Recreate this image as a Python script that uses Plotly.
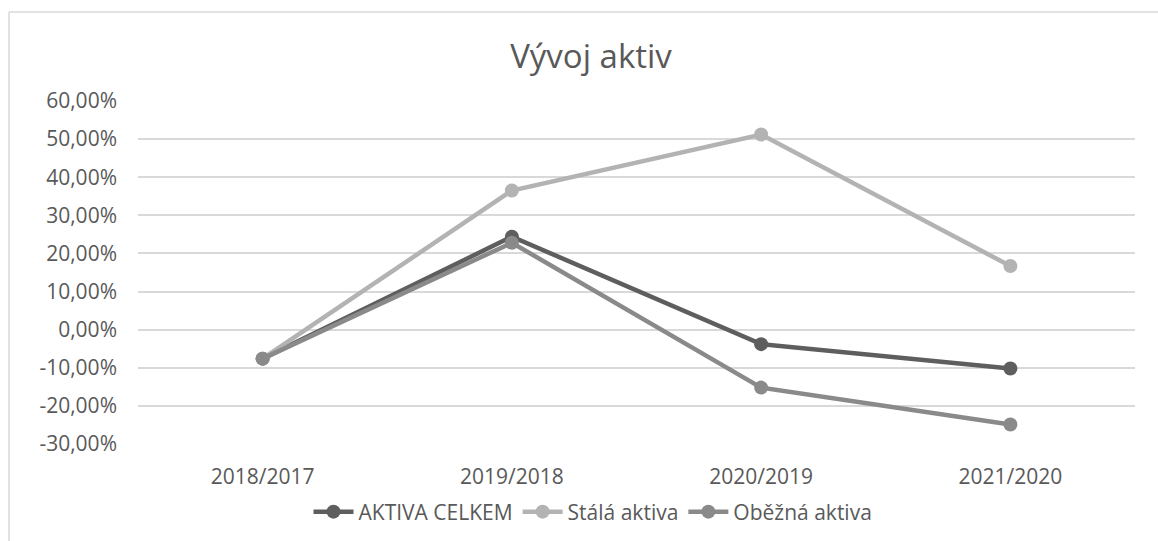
import plotly.graph_objects as go

categories = ["2018/2017", "2019/2018", "2020/2019", "2021/2020"]
aktiva_celkem = [-7.6, 24.4, -3.8, -10.2]
stala_aktiva = [-7.6, 36.5, 51.2, 16.7]
obezna_aktiva = [-7.6, 22.8, -15.2, -24.9]
series_names = ["AKTIVA CELKEM", "Stálá aktiva", "Oběžná aktiva"]
y_tick_values = [-30, -20, -10, 0, 10, 20, 30, 40, 50, 60]
y_tick_labels = ["-30,00%", "-20,00%", "-10,00%", "0,00%", "10,00%",
                 "20,00%", "30,00%", "40,00%", "50,00%", "60,00%"]
title_text = "Vývoj aktiv"

colors = ["#5e5e5e", "#b3b3b3", "#8a8a8a"]
FONT = "Open Sans"
TEXT_COLOR = "#595959"

W, H = 1158, 541
L, R, T, B = 138, 23, 101, 97
pw, ph = W - L - R, H - T - B

fig = go.Figure()
for name, vals, col in zip(series_names, [aktiva_celkem, stala_aktiva, obezna_aktiva], colors):
    fig.add_trace(go.Scatter(
        x=categories, y=vals, name=name, mode="lines+markers",
        line=dict(color=col, width=4.5),
        marker=dict(color=col, size=14),
    ))

def px_x(p):
    return (p - L) / pw

def px_y(p):
    return (H - B - p) / ph

# chart border (left and top edges visible)
border = dict(color="#d9d9d9", width=1.5)
fig.add_shape(type="line", xref="paper", yref="paper",
              x0=px_x(9), x1=px_x(9), y0=px_y(H + 5), y1=px_y(12), line=border)
fig.add_shape(type="line", xref="paper", yref="paper",
              x0=px_x(9), x1=px_x(W + 5), y0=px_y(12), y1=px_y(12), line=border)

fig.update_layout(
    width=W, height=H,
    margin=dict(l=L, r=R, t=T, b=B, autoexpand=False),
    paper_bgcolor="white", plot_bgcolor="white",
    font=dict(family=FONT, size=21, color=TEXT_COLOR),
    title=dict(text=title_text, font=dict(family=FONT, size=33, color=TEXT_COLOR),
               xref="container", x=591 / W, xanchor="center",
               yref="container", y=1 - 56 / H, yanchor="middle"),
    showlegend=True,
    legend=dict(orientation="h", xref="paper", x=px_x(593), xanchor="center",
                yref="paper", y=px_y(512), yanchor="middle",
                font=dict(family=FONT, size=21, color=TEXT_COLOR),
                itemwidth=40, tracegroupgap=0, bgcolor="rgba(0,0,0,0)"),
    xaxis=dict(type="category", range=[-0.5, 3.5], showgrid=False, zeroline=False,
               showline=False, ticks="", ticklabelstandoff=18,
               tickfont=dict(family=FONT, size=21, color=TEXT_COLOR)),
    yaxis=dict(range=[-30, 60], tickvals=y_tick_values, ticktext=y_tick_labels,
               showgrid=True, gridcolor="#d9d9d9", gridwidth=1.5, zeroline=False,
               showline=False, ticks="", ticklabelstandoff=20,
               tickfont=dict(family=FONT, size=21, color=TEXT_COLOR)),
)

fig.write_html("out.html", config={"displayModeBar": False},
               post_script="document.body.style.margin='0';")
